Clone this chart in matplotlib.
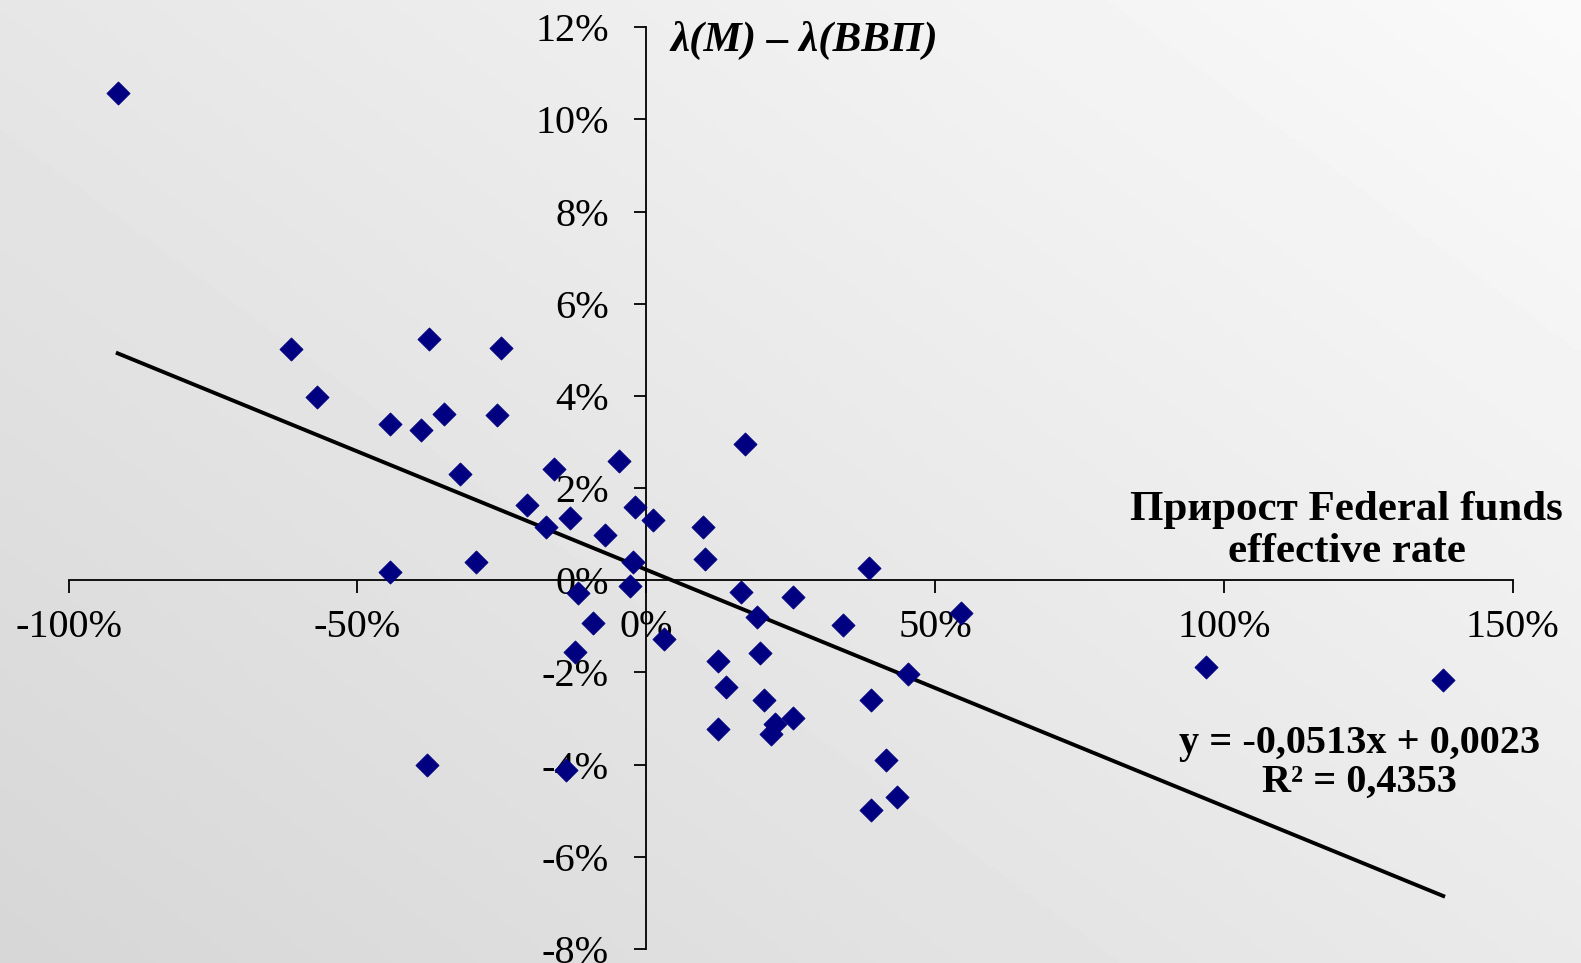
import numpy as np
import matplotlib
matplotlib.use("Agg")
import matplotlib.pyplot as plt
from matplotlib.ticker import FuncFormatter, MultipleLocator

# прирост ставки (x, %) и разница темпов (y, %)
fed_growth = [-91.5, -61.5, -57.0, -37.6, -25.1, -44.4, -39.0, -35.0, -25.8, -32.2,
              -16.0, -4.7, -20.7, -17.4, -13.2, -7.1, -1.9, 1.2, -2.3, -29.4,
              -44.4, -2.8, -11.8, -9.2, -12.4, 3.0, -38.0, -13.9, 9.9, 10.1,
              17.1, 16.4, 19.2, 25.4, 34.1, 38.5, 12.5, 19.7, 13.8, 20.4,
              12.5, 22.3, 21.6, 25.4, 38.9, 45.3, 41.5, 43.4, 38.9, 54.5,
              96.9, 138.0]
money_gap = [10.57, 5.01, 3.98, 5.23, 5.03, 3.39, 3.26, 3.61, 3.59, 2.30,
             2.41, 2.58, 1.64, 1.16, 1.36, 0.98, 1.60, 1.31, 0.39, 0.39,
             0.17, -0.13, -0.28, -0.92, -1.55, -1.27, -4.00, -4.11, 1.16, 0.46,
             2.95, -0.26, -0.79, -0.37, -0.98, 0.26, -1.75, -1.58, -2.32, -2.60,
             -3.22, -3.11, -3.33, -2.98, -2.60, -2.04, -3.90, -4.70, -4.99, -0.70,
             -1.88, -2.17]

slope = -0.0513
intercept = 0.0023
r2 = 0.4353

x = np.array(fed_growth) / 100.0
y = np.array(money_gap) / 100.0

plt.rcParams['font.family'] = ['Liberation Serif', 'DejaVu Serif']
plt.rcParams['axes.unicode_minus'] = False

fig = plt.figure(figsize=(15.81, 9.63), dpi=100)

# серый градиентный фон
bg = fig.add_axes([0, 0, 1, 1], zorder=-10)
gx, gy = np.meshgrid(np.linspace(0, 1, 400), np.linspace(0, 1, 250))
grad = 0.84 + 0.14 * (0.55 * gx + 0.45 * gy)
grad = np.clip(grad, 0, 1)
bg.imshow(grad, cmap='gray', vmin=0, vmax=1, origin='lower', aspect='auto',
          extent=[0, 1, 0, 1])
bg.axis('off')

ax = fig.add_axes([0.0434, 0.0145, 0.9133, 0.9573])
ax.patch.set_alpha(0)
ax.set_xlim(-1.0, 1.5)
ax.set_ylim(-0.08, 0.12)

ax.spines['left'].set_position(('data', 0))
ax.spines['bottom'].set_position(('data', 0))
ax.spines['top'].set_visible(False)
ax.spines['right'].set_visible(False)
for s in ('left', 'bottom'):
    ax.spines[s].set_linewidth(1.3)

ax.xaxis.set_major_locator(MultipleLocator(0.5))
ax.yaxis.set_major_locator(MultipleLocator(0.02))
ax.xaxis.set_major_formatter(FuncFormatter(lambda v, p: f"{v*100:.0f}%"))
ax.yaxis.set_major_formatter(FuncFormatter(lambda v, p: f"{v*100:.0f}%"))
ax.tick_params(axis='x', direction='out', length=9, width=1.3, pad=12, labelsize=29)
ax.tick_params(axis='y', direction='out', length=9, width=1.3, pad=18, labelsize=29)

ax.scatter(x, y, marker='D', s=140, color='#000080', edgecolors='#000080',
           linewidths=0.5, zorder=3)

xl = np.array([min(x), max(x)])
ax.plot(xl, slope * xl + intercept, color='black', lw=2.8, zorder=2)

ax.text(0.042, 0.1172, "λ(M) – λ(ВВП)", fontsize=31, fontweight='bold',
        style='italic', ha='left', va='center')
ax.text(1.213, 0.0107, "Прирост Federal funds\neffective rate", fontsize=31,
        fontweight='bold', ha='center', va='center', linespacing=1.15)
ax.text(1.235, -0.0396, f"y = {slope:.4f}x + {intercept:.4f}".replace('.', ',')
        + f"\nR² = {r2:.4f}".replace('.', ','), fontsize=29,
        fontweight='bold', ha='center', va='center', linespacing=1.05)

fig.savefig("out.png", dpi=100)
